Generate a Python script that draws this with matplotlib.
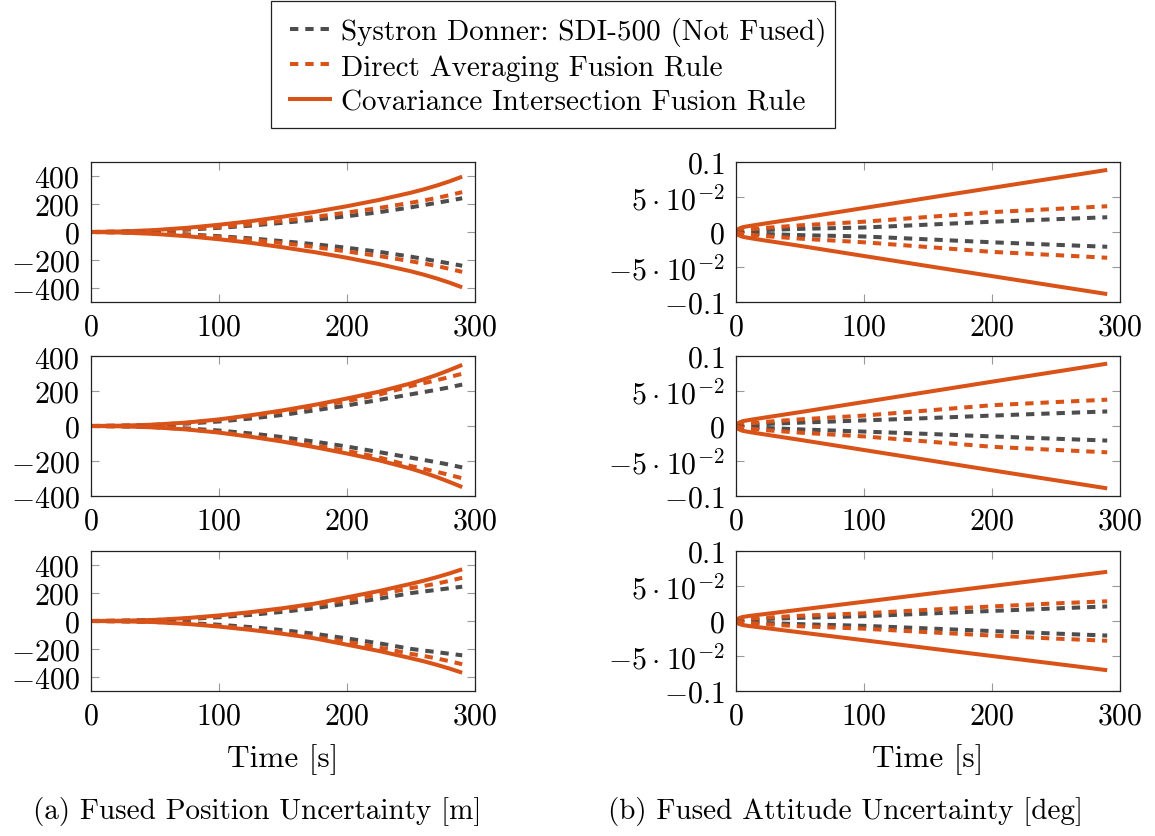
import matplotlib
matplotlib.use('Agg')
import matplotlib.pyplot as plt
from matplotlib.lines import Line2D
from matplotlib.patches import Rectangle
from matplotlib.ticker import FixedLocator, FixedFormatter
import numpy as np

plt.rcParams['font.family'] = 'serif'
plt.rcParams['font.serif'] = ['cmr10']
plt.rcParams['mathtext.fontset'] = 'cm'
plt.rcParams['axes.unicode_minus'] = False
plt.rcParams['lines.scale_dashes'] = False

# ---------------- data ----------------
labels = ['Systron Donner: SDI-500 (Not Fused)',
          'Direct Averaging Fusion Rule',
          'Covariance Intersection Fusion Rule']

# position (left column), time samples [s]
t_pos = [0, 25, 50, 75, 100, 125, 150, 175, 200, 225, 250, 260, 270, 280, 290]
# row 1
pos1_sdi = [0, 2, 8, 17, 30, 46, 66, 88, 113, 142, 177, 193, 209, 225, 242]
pos1_da = [0, 3, 10, 21, 36, 55, 80, 108, 140, 172, 210, 226, 244, 264, 286]
pos1_ci = [0, 4, 14, 30, 52, 78, 110, 145, 185, 230, 282, 306, 333, 363, 397]
# row 2
pos2_sdi = [0, 2, 6, 14, 26, 43, 64, 90, 118, 150, 182, 195, 208, 222, 238]
pos2_da = [0, 2, 7, 18, 35, 57, 83, 112, 143, 180, 230, 246, 263, 281, 300]
pos2_ci = [0, 2, 8, 20, 38, 62, 90, 122, 158, 197, 245, 268, 293, 321, 351]
# row 3
pos3_sdi = [0, 2, 6, 14, 27, 44, 66, 92, 125, 160, 200, 212, 223, 235, 246]
pos3_da = [0, 2, 7, 18, 35, 58, 85, 116, 150, 190, 236, 251, 268, 288, 310]
pos3_ci = [0, 2, 8, 21, 40, 64, 92, 125, 170, 215, 267, 289, 314, 341, 371]

# attitude (right column)
t_att = [0, 2, 5, 11, 25, 50, 100, 150, 200, 250, 290]
att1_sdi = [0, 0.0008, 0.0013, 0.002, 0.003, 0.0045, 0.0064, 0.0105, 0.0147, 0.0183, 0.0211]
att1_da = [0, 0.0015, 0.0025, 0.0038, 0.0062, 0.0095, 0.0147, 0.0215, 0.0284, 0.0330, 0.0368]
att1_ci = [0, 0.0045, 0.0068, 0.0088, 0.0128, 0.0198, 0.0343, 0.0487, 0.0630, 0.0773, 0.0887]
att2_sdi = [0, 0.0008, 0.0013, 0.002, 0.003, 0.0048, 0.0080, 0.0113, 0.0149, 0.0182, 0.0208]
att2_da = [0, 0.0015, 0.0025, 0.0038, 0.0062, 0.0095, 0.0149, 0.0222, 0.0297, 0.0342, 0.0376]
att2_ci = [0, 0.0045, 0.0068, 0.0088, 0.0128, 0.0198, 0.0343, 0.0488, 0.0633, 0.0776, 0.0891]
att3_sdi = [0, 0.0008, 0.0013, 0.002, 0.003, 0.0045, 0.0069, 0.0106, 0.0144, 0.0180, 0.0208]
att3_da = [0, 0.0012, 0.002, 0.003, 0.005, 0.0075, 0.0110, 0.0160, 0.0208, 0.0252, 0.0282]
att3_ci = [0, 0.0038, 0.0057, 0.0074, 0.0105, 0.0162, 0.0275, 0.0388, 0.0500, 0.0612, 0.0703]

pos_rows = [(pos1_sdi, pos1_da, pos1_ci), (pos2_sdi, pos2_da, pos2_ci), (pos3_sdi, pos3_da, pos3_ci)]
att_rows = [(att1_sdi, att1_da, att1_ci), (att2_sdi, att2_da, att2_ci), (att3_sdi, att3_da, att3_ci)]
pos_ylims = [502, 402, 502]

x_ticks = [0, 100, 200, 300]
x_ticklabels = ['$0$', '$100$', '$200$', '$300$']
pos_yticks = [-400, -200, 0, 200, 400]
pos_yticklabels = ['$-400$', '$-200$', '$0$', '$200$', '$400$']
att_yticks = [-0.1, -0.05, 0, 0.05, 0.1]
att_yticklabels = [r'$-0.1$', r'$-5\:\cdot\:10^{-2}$', '$0$', r'$5\:\cdot\:10^{-2}$', r'$0.1$']

xlabel = 'Time [s]'
captions = ['(a) Fused Position Uncertainty [m]', '(b) Fused Attitude Uncertainty [deg]']

# ---------------- style ----------------
W, H = 1155, 837
FS = 21.5
GRAY = '#4d4d4d'
ORANGE = '#d95319'
LW = 2.9
DASH = (6, 5)

fig = plt.figure(figsize=(W / 100, H / 100), dpi=100)

def px_axes(x0, top, w, h):
    return fig.add_axes([x0 / W, 1 - (top + h) / H, w / W, h / H])

col_x = [91, 736]
row_top = [163, 357, 552]
AW, AH = 384, 140

def style_axis(ax, yticks, yticklabels):
    ax.set_xlim(0, 300)
    ax.xaxis.set_major_locator(FixedLocator(x_ticks))
    ax.xaxis.set_major_formatter(FixedFormatter(x_ticklabels))
    ax.yaxis.set_major_locator(FixedLocator(yticks))
    ax.yaxis.set_major_formatter(FixedFormatter(yticklabels))
    ax.tick_params(direction='in', length=6, width=0.8, color='#999999',
                   top=True, right=True, labelsize=FS, pad=8)
    for s in ax.spines.values():
        s.set_color('#222222')
        s.set_linewidth(0.9)

def draw(ax, t, sdi, da, ci):
    t = np.asarray(t)
    for sign in (1, -1):
        ax.plot(t, sign * np.asarray(sdi), color=GRAY, lw=LW, dashes=DASH, dash_capstyle='butt')
        ax.plot(t, sign * np.asarray(da), color=ORANGE, lw=LW, dashes=DASH, dash_capstyle='butt')
        ax.plot(t, sign * np.asarray(ci), color=ORANGE, lw=LW, solid_capstyle='butt')

for r in range(3):
    axl = px_axes(col_x[0], row_top[r], AW, AH)
    draw(axl, t_pos, *pos_rows[r])
    axl.set_ylim(-pos_ylims[r], pos_ylims[r])
    style_axis(axl, pos_yticks, pos_yticklabels)

    axr = px_axes(col_x[1], row_top[r], AW, AH)
    draw(axr, t_att, *att_rows[r])
    axr.set_ylim(-0.1, 0.1)
    style_axis(axr, att_yticks, att_yticklabels)

# x labels and captions
fig.text(283 / W, 1 - 760 / H, xlabel, ha='center', va='center', fontsize=22.5)
fig.text(928 / W, 1 - 760 / H, xlabel, ha='center', va='center', fontsize=22.5)
fig.text(257.5 / W, 1 - 812 / H, captions[0], ha='center', va='center', fontsize=21)
fig.text(846 / W, 1 - 812 / H, captions[1], ha='center', va='center', fontsize=21)

# legend (frame drawn as a separate rectangle)
fig.patches.append(Rectangle((271 / W, 1 - 129 / H), 564 / W, 127 / H,
                             transform=fig.transFigure, fill=False,
                             edgecolor='#222222', linewidth=0.9))
handles = [Line2D([], [], color=GRAY, lw=LW, dashes=DASH, dash_capstyle='butt'),
           Line2D([], [], color=ORANGE, lw=LW, dashes=DASH, dash_capstyle='butt'),
           Line2D([], [], color=ORANGE, lw=LW)]
leg = fig.legend(handles, labels, loc='upper left', bbox_to_anchor=(290 / W, 1 - 18 / H),
                 fontsize=21, frameon=False,
                 handlelength=1.37, handletextpad=0.38, labelspacing=0.28,
                 borderpad=0, borderaxespad=0)

fig.savefig('out.png', dpi=100)
